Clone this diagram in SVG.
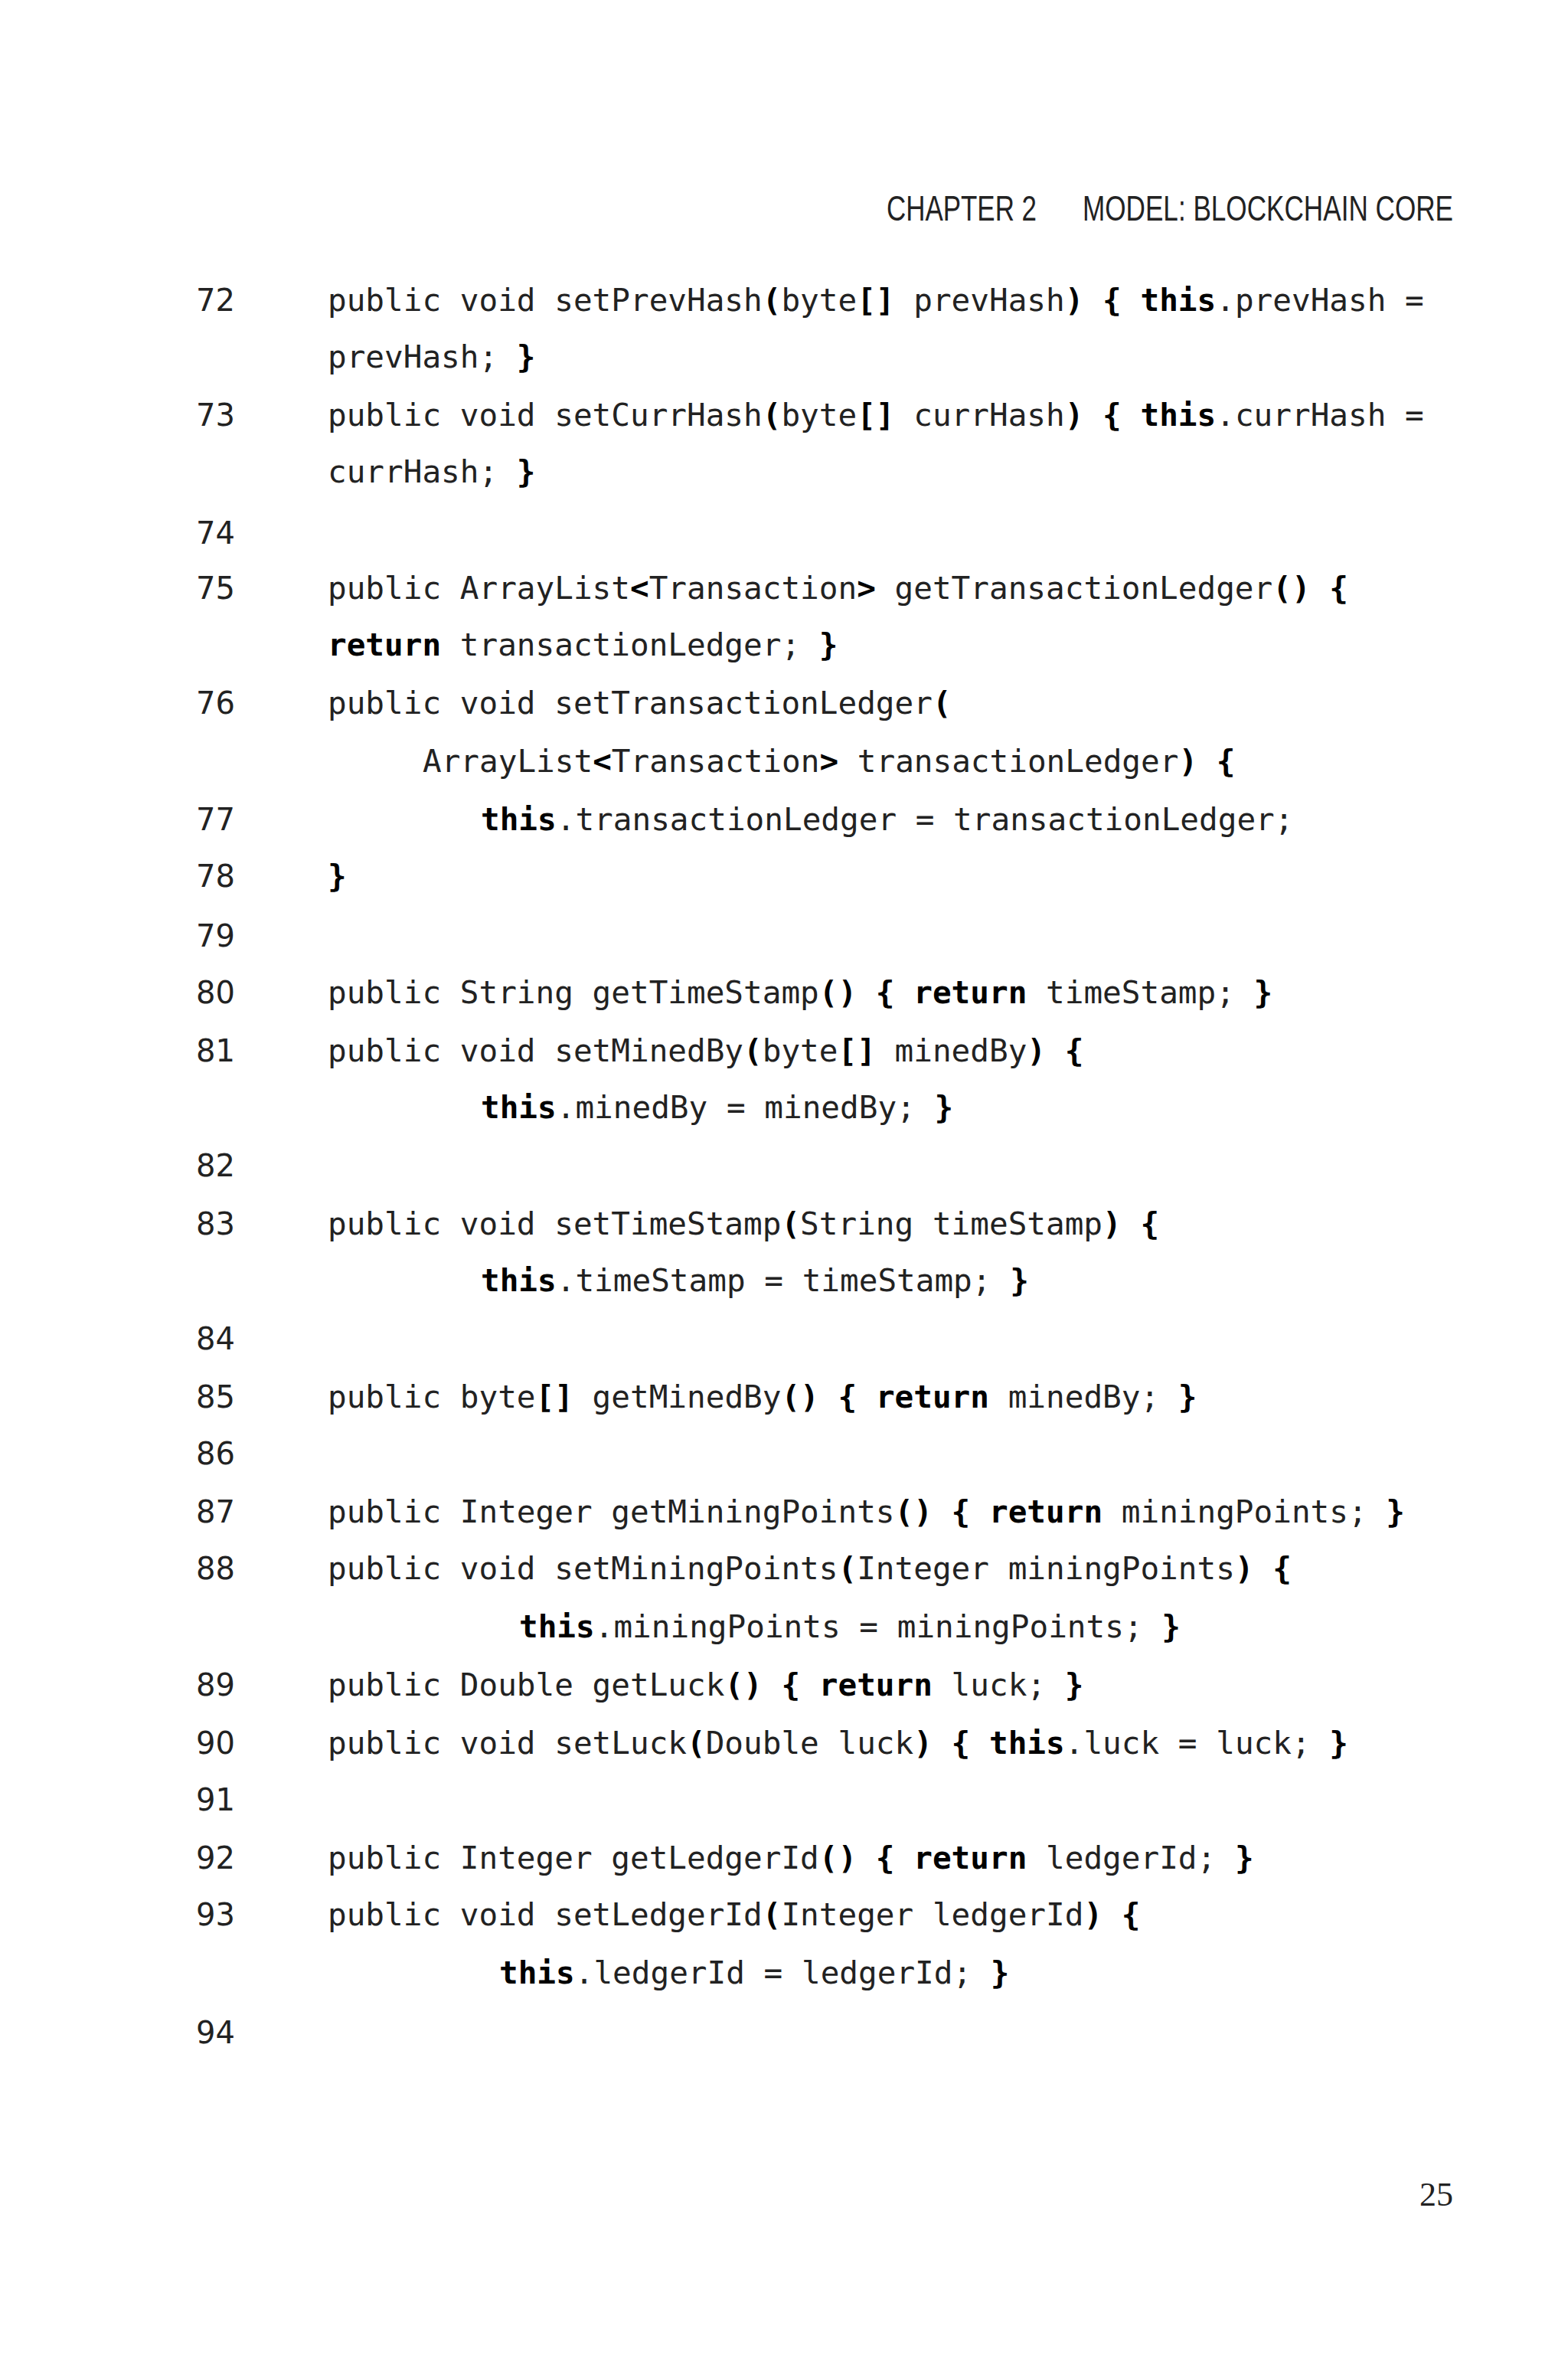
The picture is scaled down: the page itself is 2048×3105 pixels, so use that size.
<svg xmlns="http://www.w3.org/2000/svg" width="2048" height="3105" viewBox="0 0 2048 3105">
<style>
.c{font-family:"DejaVu Sans Mono","Liberation Mono",monospace;font-size:41px;fill:#222}
.n{font-family:"DejaVu Sans","Liberation Sans",sans-serif;font-size:40px;fill:#222}
.b{font-weight:bold;fill:#000}
.h{font-family:"Liberation Sans",sans-serif;font-size:46px;fill:#222}
</style>
<rect width="2048" height="3105" fill="#fff"/>
<text class="h" x="1158" y="288" textLength="196" lengthAdjust="spacingAndGlyphs">CHAPTER 2</text>
<text class="h" x="1414" y="288" textLength="484" lengthAdjust="spacingAndGlyphs">MODEL: BLOCKCHAIN CORE</text>
<g id="numbers">
<text class="n" x="256" y="406">72</text>
<text class="n" x="256" y="556">73</text>
<text class="n" x="256" y="710">74</text>
<text class="n" x="256" y="782">75</text>
<text class="n" x="256" y="932">76</text>
<text class="n" x="256" y="1084">77</text>
<text class="n" x="256" y="1158">78</text>
<text class="n" x="256" y="1236">79</text>
<text class="n" x="256" y="1310">80</text>
<text class="n" x="256" y="1386">81</text>
<text class="n" x="256" y="1536">82</text>
<text class="n" x="256" y="1612">83</text>
<text class="n" x="256" y="1762">84</text>
<text class="n" x="256" y="1838">85</text>
<text class="n" x="256" y="1912">86</text>
<text class="n" x="256" y="1988">87</text>
<text class="n" x="256" y="2062">88</text>
<text class="n" x="256" y="2214">89</text>
<text class="n" x="256" y="2290">90</text>
<text class="n" x="256" y="2364">91</text>
<text class="n" x="256" y="2440">92</text>
<text class="n" x="256" y="2514">93</text>
<text class="n" x="256" y="2668">94</text>
</g>
<g id="code" xml:space="preserve">
<text class="c" x="428" y="406">public void setPrevHash<tspan class="b">(</tspan>byte<tspan class="b">[]</tspan> prevHash<tspan class="b">)</tspan> <tspan class="b">{</tspan> <tspan class="b">this</tspan>.prevHash =</text>
<text class="c" x="428" y="480">prevHash; <tspan class="b">}</tspan></text>
<text class="c" x="428" y="556">public void setCurrHash<tspan class="b">(</tspan>byte<tspan class="b">[]</tspan> currHash<tspan class="b">)</tspan> <tspan class="b">{</tspan> <tspan class="b">this</tspan>.currHash =</text>
<text class="c" x="428" y="630">currHash; <tspan class="b">}</tspan></text>
<text class="c" x="428" y="782">public ArrayList<tspan class="b">&lt;</tspan>Transaction<tspan class="b">&gt;</tspan> getTransactionLedger<tspan class="b">()</tspan> <tspan class="b">{</tspan></text>
<text class="c" x="428" y="856"><tspan class="b">return</tspan> transactionLedger; <tspan class="b">}</tspan></text>
<text class="c" x="428" y="932">public void setTransactionLedger<tspan class="b">(</tspan></text>
<text class="c" x="552" y="1008">ArrayList<tspan class="b">&lt;</tspan>Transaction<tspan class="b">&gt;</tspan> transactionLedger<tspan class="b">)</tspan> <tspan class="b">{</tspan></text>
<text class="c" x="628" y="1084"><tspan class="b">this</tspan>.transactionLedger = transactionLedger;</text>
<text class="c" x="428" y="1158"><tspan class="b">}</tspan></text>
<text class="c" x="428" y="1310">public String getTimeStamp<tspan class="b">()</tspan> <tspan class="b">{</tspan> <tspan class="b">return</tspan> timeStamp; <tspan class="b">}</tspan></text>
<text class="c" x="428" y="1386">public void setMinedBy<tspan class="b">(</tspan>byte<tspan class="b">[]</tspan> minedBy<tspan class="b">)</tspan> <tspan class="b">{</tspan></text>
<text class="c" x="628" y="1460"><tspan class="b">this</tspan>.minedBy = minedBy; <tspan class="b">}</tspan></text>
<text class="c" x="428" y="1612">public void setTimeStamp<tspan class="b">(</tspan>String timeStamp<tspan class="b">)</tspan> <tspan class="b">{</tspan></text>
<text class="c" x="628" y="1686"><tspan class="b">this</tspan>.timeStamp = timeStamp; <tspan class="b">}</tspan></text>
<text class="c" x="428" y="1838">public byte<tspan class="b">[]</tspan> getMinedBy<tspan class="b">()</tspan> <tspan class="b">{</tspan> <tspan class="b">return</tspan> minedBy; <tspan class="b">}</tspan></text>
<text class="c" x="428" y="1988">public Integer getMiningPoints<tspan class="b">()</tspan> <tspan class="b">{</tspan> <tspan class="b">return</tspan> miningPoints; <tspan class="b">}</tspan></text>
<text class="c" x="428" y="2062">public void setMiningPoints<tspan class="b">(</tspan>Integer miningPoints<tspan class="b">)</tspan> <tspan class="b">{</tspan></text>
<text class="c" x="678" y="2138"><tspan class="b">this</tspan>.miningPoints = miningPoints; <tspan class="b">}</tspan></text>
<text class="c" x="428" y="2214">public Double getLuck<tspan class="b">()</tspan> <tspan class="b">{</tspan> <tspan class="b">return</tspan> luck; <tspan class="b">}</tspan></text>
<text class="c" x="428" y="2290">public void setLuck<tspan class="b">(</tspan>Double luck<tspan class="b">)</tspan> <tspan class="b">{</tspan> <tspan class="b">this</tspan>.luck = luck; <tspan class="b">}</tspan></text>
<text class="c" x="428" y="2440">public Integer getLedgerId<tspan class="b">()</tspan> <tspan class="b">{</tspan> <tspan class="b">return</tspan> ledgerId; <tspan class="b">}</tspan></text>
<text class="c" x="428" y="2514">public void setLedgerId<tspan class="b">(</tspan>Integer ledgerId<tspan class="b">)</tspan> <tspan class="b">{</tspan></text>
<text class="c" x="652" y="2590"><tspan class="b">this</tspan>.ledgerId = ledgerId; <tspan class="b">}</tspan></text>
</g>
<text x="1898" y="2880" text-anchor="end" style="font-family:'Liberation Serif',serif;font-size:44px;fill:#222">25</text>
</svg>
